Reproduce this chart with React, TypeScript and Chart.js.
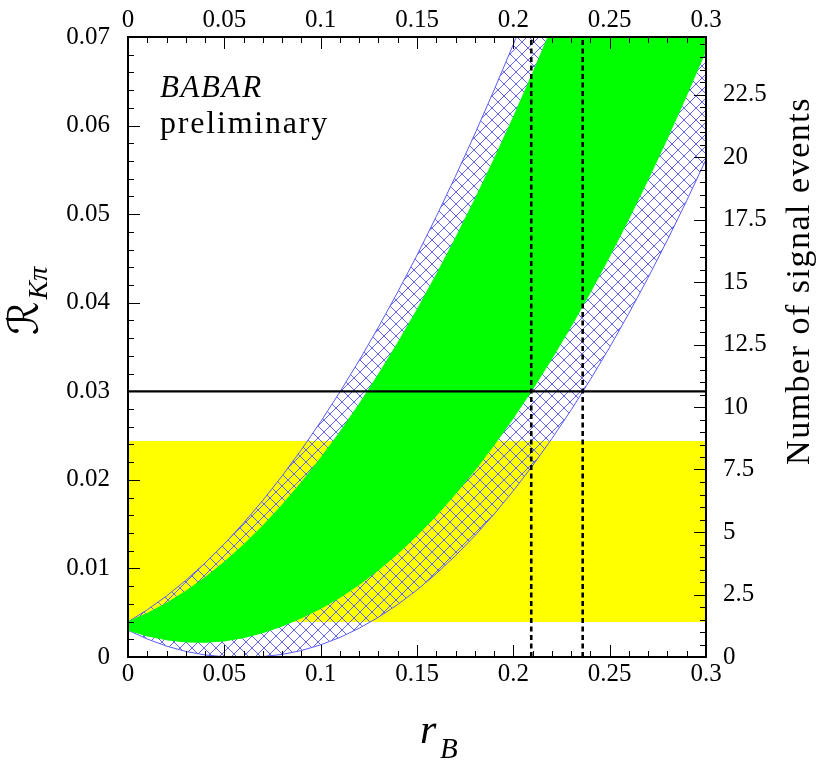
import React, { useEffect, useRef } from 'react';
import { Chart, registerables } from 'chart.js';

Chart.register(...registerables);

// r_B sample positions
const rB = [0, 0.01, 0.02, 0.03, 0.04, 0.05, 0.06, 0.07, 0.08, 0.09, 0.1, 0.11, 0.12, 0.13, 0.14, 0.15,
  0.16, 0.17, 0.18, 0.19, 0.2, 0.21, 0.22, 0.23, 0.24, 0.25, 0.26, 0.27, 0.28, 0.29, 0.3];

// Hatched (blue) band boundaries
const hatchUpper = [0.00397, 0.00533, 0.00689, 0.00865, 0.01061, 0.01277, 0.01513, 0.01769, 0.02045, 0.02341,
  0.02657, 0.02993, 0.03349, 0.03725, 0.04121, 0.04537, 0.04973, 0.05429, 0.05905, 0.06401, 0.06917, 0.07453,
  0.08009, 0.08585, 0.09181, 0.09797, 0.10433, 0.11089, 0.11765, 0.12461, 0.13177];
const hatchLower = [0.00303, 0.00203, 0.00123, 0.00063, 0.00023, 0.00003, 0, 0.00005, 0.00029, 0.00073,
  0.00137, 0.00221, 0.00325, 0.00449, 0.00593, 0.00757, 0.00941, 0.01145, 0.01369, 0.01613, 0.01877, 0.02161,
  0.02465, 0.02789, 0.03133, 0.03497, 0.03881, 0.04285, 0.04709, 0.05153, 0.05617];

// Green band boundaries
const greenUpper = [0.00397, 0.00492, 0.00607, 0.00742, 0.00897, 0.01072, 0.01266, 0.01481, 0.01716, 0.01971,
  0.02246, 0.02541, 0.02856, 0.03191, 0.03546, 0.03921, 0.04316, 0.04731, 0.05166, 0.05621, 0.06095, 0.0659,
  0.07105, 0.0764, 0.08195, 0.0877, 0.09365, 0.0998, 0.10615, 0.1127, 0.11945];
const greenLower = [0.00303, 0.00238, 0.00194, 0.0017, 0.00166, 0.00182, 0.00218, 0.00274, 0.00349, 0.00442,
  0.00548, 0.00673, 0.00818, 0.00983, 0.01168, 0.01373, 0.01598, 0.01843, 0.02108, 0.02393, 0.02698, 0.03024,
  0.03369, 0.03734, 0.04119, 0.04524, 0.04949, 0.05394, 0.05859, 0.06344, 0.06849];

// Yellow band
const yellowX = [0, 0.3];
const yellowTop = 0.0244;
const yellowBottom = 0.00395;

// Reference level and cut positions
const refLevel = 0.03;
const cutPositions = [0.2093, 0.236];
const cutY = [0, 0.07];

// Axes
const xTicks = [0, 0.05, 0.1, 0.15, 0.2, 0.25, 0.3];
const xTickLabels = ['0', '0.05', '0.1', '0.15', '0.2', '0.25', '0.3'];
const yTicks = [0, 0.01, 0.02, 0.03, 0.04, 0.05, 0.06, 0.07];
const yTickLabels = ['0', '0.01', '0.02', '0.03', '0.04', '0.05', '0.06', '0.07'];
const eventTicks = [0, 2.5, 5, 7.5, 10, 12.5, 15, 17.5, 20, 22.5];
const eventTickLabels = ['0', '2.5', '5', '7.5', '10', '12.5', '15', '17.5', '20', '22.5'];
const eventMax = 24.8;

const SERIF = '"Liberation Serif", "Times New Roman", serif';

function makeHatch(): CanvasPattern | string {
  const d = 12;
  const c = document.createElement('canvas');
  c.width = d;
  c.height = d;
  const g = c.getContext('2d');
  if (!g) return 'rgba(80,80,255,0.3)';
  g.fillStyle = 'rgb(100,100,255)';
  for (let i = 0; i < d; i++) {
    g.fillRect(i, i, 1, 1);
    g.fillRect(d - 1 - i, i, 1, 1);
  }
  return g.createPattern(c, 'repeat') || 'rgba(80,80,255,0.3)';
}

const decor = {
  id: 'decor',
  afterDatasetsDraw(chart: any) {
    const ctx: CanvasRenderingContext2D = chart.ctx;
    const a = chart.chartArea;
    const sx = chart.scales.x;
    const sy = chart.scales.y;
    const sr = chart.scales.yRight;
    ctx.save();
    ctx.strokeStyle = '#000';
    ctx.lineWidth = 1;
    ctx.beginPath();
    // bottom & top ticks
    for (let i = 0; i <= 30; i++) {
      const v = i * 0.01;
      const p = Math.round(sx.getPixelForValue(v)) + 0.5;
      const len = i % 5 === 0 ? 12 : 6;
      ctx.moveTo(p, a.bottom);
      ctx.lineTo(p, a.bottom - len);
      ctx.moveTo(p, a.top);
      ctx.lineTo(p, a.top + len);
    }
    // left ticks
    for (let i = 0; i <= 35; i++) {
      const v = i * 0.002;
      const p = Math.round(sy.getPixelForValue(v)) + 0.5;
      const len = i % 5 === 0 ? 12 : 6;
      ctx.moveTo(a.left, p);
      ctx.lineTo(a.left + len, p);
    }
    // right ticks
    for (let i = 0; i <= 49; i++) {
      const v = i * 0.5;
      const p = Math.round(sr.getPixelForValue(v)) + 0.5;
      const len = i % 5 === 0 ? 12 : 6;
      ctx.moveTo(a.right, p);
      ctx.lineTo(a.right - len, p);
    }
    ctx.stroke();

    // frame
    ctx.lineWidth = 2;
    ctx.strokeRect(a.left, a.top, a.right - a.left, a.bottom - a.top);

    // texts
    ctx.fillStyle = '#000';
    ctx.textBaseline = 'alphabetic';
    ctx.textAlign = 'left';
    (ctx as any).letterSpacing = '1.6px';
    ctx.font = `italic 31px ${SERIF}`;
    ctx.fillText('BABAR', a.left + 32, a.top + 60);
    (ctx as any).letterSpacing = '1.8px';
    ctx.font = `32px ${SERIF}`;
    ctx.fillText('preliminary', a.left + 32, a.top + 96);

    // bottom title r_B
    (ctx as any).letterSpacing = '0px';
    ctx.font = `italic 42px ${SERIF}`;
    ctx.fillText('r', 420, 743);
    ctx.font = `italic 29px ${SERIF}`;
    ctx.fillText('B', 440, 758);

    // left title R_{K pi}
    ctx.save();
    ctx.translate(38, 335);
    ctx.rotate(-Math.PI / 2);
    ctx.font = `42px "DejaVu Serif", "DejaVu Sans", serif`;
    ctx.fillText('\u211B', 0, 0);
    const w = ctx.measureText('\u211B').width;
    ctx.font = `italic 28px ${SERIF}`;
    ctx.fillText('K\u03C0', w + 2, 9);
    ctx.restore();

    // right title
    ctx.save();
    ctx.translate(809, 281);
    ctx.rotate(-Math.PI / 2);
    (ctx as any).letterSpacing = '1.5px';
    ctx.font = `34px ${SERIF}`;
    ctx.textAlign = 'center';
    ctx.fillText('Number of signal events', 0, 0);
    ctx.restore();

    ctx.restore();
  },
};

export default function App() {
  const ref = useRef<HTMLCanvasElement>(null);
  useEffect(() => {
    const canvas = ref.current;
    if (!canvas) return;
    const hatch = makeHatch();
    const pts = (ys: number[]) => rB.map((x, i) => ({ x, y: ys[i] }));
    const flat = (xs: number[], y: number) => xs.map((x) => ({ x, y }));
    const vline = (x: number) => cutY.map((y) => ({ x, y }));
    const tickFont = { family: SERIF, size: 25 };
    const base = { pointRadius: 0, tension: 0, clip: 0 } as any;

    const chart = new Chart(canvas, {
      type: 'line',
      data: {
        datasets: [
          { ...base, data: flat(yellowX, yellowTop), fill: 1, backgroundColor: '#ffff00', borderWidth: 0, order: 10 },
          { ...base, data: flat(yellowX, yellowBottom), fill: false, borderWidth: 0, order: 10 },
          { ...base, data: pts(hatchUpper), fill: 3, backgroundColor: hatch, borderColor: 'rgb(90,90,255)', borderWidth: 1, order: 8 },
          { ...base, data: pts(hatchLower), fill: false, borderColor: 'rgb(90,90,255)', borderWidth: 1, order: 8 },
          { ...base, data: pts(greenUpper), fill: 5, backgroundColor: '#00ff00', borderColor: '#00ff00', borderWidth: 1, order: 6 },
          { ...base, data: pts(greenLower), fill: false, borderColor: '#00ff00', borderWidth: 1, order: 6 },
          { ...base, data: flat(yellowX, refLevel), fill: false, borderColor: '#000', borderWidth: 2.2, order: 4 },
          { ...base, data: vline(cutPositions[0]), fill: false, borderColor: '#000', borderWidth: 2.6, borderDash: [5, 3.5], order: 2 },
          { ...base, data: vline(cutPositions[1]), fill: false, borderColor: '#000', borderWidth: 2.6, borderDash: [5, 3.5], order: 2 },
        ],
      },
      options: {
        responsive: false,
        maintainAspectRatio: false,
        animation: false,
        events: [],
        layout: { padding: 0 },
        plugins: { legend: { display: false }, tooltip: { enabled: false }, title: { display: false } },
        scales: {
          x: {
            type: 'linear', position: 'bottom', min: 0, max: 0.3,
            grid: { display: false, drawTicks: false }, border: { display: false },
            afterBuildTicks: (s: any) => { s.ticks = xTicks.map((v) => ({ value: v })); },
            afterFit: (s: any) => { s.height = 107; },
            ticks: { autoSkip: false, maxRotation: 0, padding: 2, color: '#000', font: tickFont,
              callback: (_v: any, i: number) => xTickLabels[i] },
          },
          xTop: {
            type: 'linear', axis: 'x', position: 'top', min: 0, max: 0.3,
            grid: { display: false, drawTicks: false }, border: { display: false },
            afterBuildTicks: (s: any) => { s.ticks = xTicks.map((v) => ({ value: v })); },
            afterFit: (s: any) => { s.height = 37; },
            ticks: { autoSkip: false, maxRotation: 0, padding: 2, color: '#000', font: tickFont,
              callback: (_v: any, i: number) => xTickLabels[i] },
          },
          y: {
            type: 'linear', position: 'left', min: 0, max: 0.07,
            grid: { display: false, drawTicks: false }, border: { display: false },
            afterBuildTicks: (s: any) => { s.ticks = yTicks.map((v) => ({ value: v })); },
            afterFit: (s: any) => { s.width = 128; },
            ticks: { autoSkip: false, padding: 18, color: '#000', font: tickFont,
              callback: (_v: any, i: number) => yTickLabels[i] },
          },
          yRight: {
            type: 'linear', axis: 'y', position: 'right', min: 0, max: eventMax,
            grid: { display: false, drawTicks: false }, border: { display: false },
            afterBuildTicks: (s: any) => { s.ticks = eventTicks.map((v) => ({ value: v })); },
            afterFit: (s: any) => { s.width = 124; },
            ticks: { autoSkip: false, padding: 17, color: '#000', font: tickFont,
              callback: (_v: any, i: number) => eventTickLabels[i] },
          },
        },
      } as any,
      plugins: [decor],
    });
    return () => chart.destroy();
  }, []);

  return (
    <div style={{ position: 'absolute', left: 0, top: 0, width: 830, height: 764, background: '#fff' }}>
      <canvas ref={ref} width={830} height={764} style={{ display: 'block' }} />
    </div>
  );
}
